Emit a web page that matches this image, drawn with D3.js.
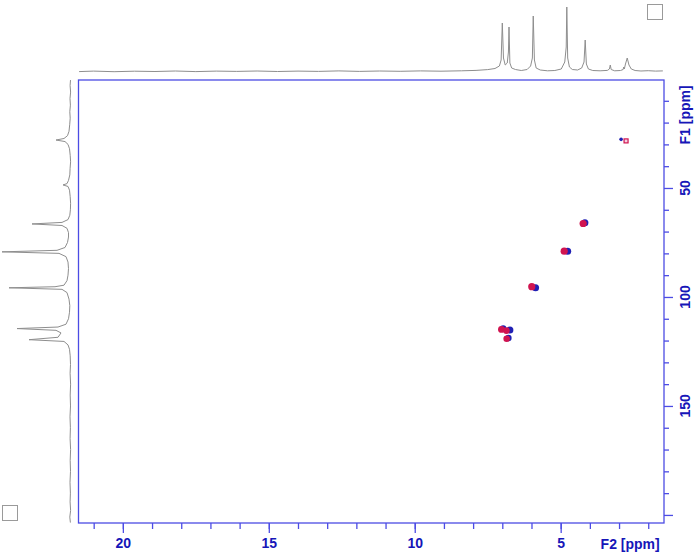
<!DOCTYPE html>
<html><head><meta charset="utf-8">
<script src="https://cdn.jsdelivr.net/npm/d3@7"></script>
<style>body{margin:0;background:#fff}svg{display:block}</style>
</head><body>
<script>
// ---- data ----
const f2MajorTicks = [20, 15, 10, 5];
const f2MinorTicks = [21,20,19,18,17,16,15,14,13,12,11,10,9,8,7,6,5,4,3,2];
const f1MajorTicks = [50, 100, 150, 200];
const f1MajorLabels = [50, 100, 150];
const f1MinorTicks = [10,20,30,40,60,70,80,90,110,120,130,140,160,170,180,190];
const f2AxisTitle = "F2 [ppm]";
const f1AxisTitle = "F1 [ppm]";

// 2D cross peaks [F2 ppm, F1 ppm, size]
const bluePeaks = [[2.93,27.7,1.8],[4.17,66.0,3.5],[4.76,79.0,3.5],[5.86,95.8,3.5],[6.97,114.4,3.2],[6.74,115.2,3.5],[6.79,118.8,3.2]];
const redPeaks  = [[4.23,66.3,3.6],[4.88,79.0,3.6],[5.99,95.3,3.6],[7.03,114.9,3.4],[6.86,115.4,3.4],[6.85,119.2,3.3]];
const redSquarePeaks = [[2.76,28.4]];

// F2 projection (top): [ppm, intensity]
const f2Trace = [[21.5,0.4],[21.0,0.9],[20.3,0.3],[19.6,0.8],[18.9,0.5],[18.2,1.0],[17.5,0.4],[16.8,0.9],[16.1,0.6],[15.4,1.0],[14.7,0.5],[14.0,0.9],[13.3,0.6],[12.6,1.1],[11.9,0.6],[11.2,1.0],[10.5,0.7],[9.8,1.1],[9.1,0.8],[8.4,1.2],[7.9,1.6],[7.5,2.4],[7.25,3.5],[7.1,6],[7.04,12],[7.0,49],[6.96,14],[6.9,7],[6.83,9],[6.79,20],[6.77,45],[6.74,9],[6.68,4],[6.55,2.5],[6.35,1.5],[6.15,2.5],[6.03,6],[5.97,14],[5.94,56],[5.9,12],[5.84,4],[5.7,2],[5.45,1.2],[5.2,1.5],[4.98,3],[4.86,10],[4.81,25],[4.79,65],[4.76,14],[4.7,5],[4.6,2.5],[4.42,2],[4.28,4],[4.2,10],[4.16,32],[4.12,8],[4.05,3],[3.9,1.5],[3.65,1.2],[3.4,1.6],[3.33,3],[3.30,7],[3.27,2.5],[3.15,1.2],[2.95,1.5],[2.86,2.5],[2.84,5],[2.82,3],[2.78,8],[2.72,14],[2.66,7],[2.58,3],[2.45,1.5],[2.25,1.0],[2.0,1.3],[1.75,0.9],[1.5,1.1]];

// F1 projection (left): [ppm, intensity]
const f1Trace = [[0.5,0.5],[3,0.9],[6,0.4],[9,1.0],[12,0.6],[15,1.2],[18,0.8],[21,1.3],[24,2],[26,3.5],[27.3,7],[28,15],[28.7,6],[30,3],[32,1.5],[35,0.8],[38,0.4],[41,0.9],[44,1.2],[46.5,2.5],[48,4],[48.6,8],[49.3,3],[51,1.5],[54,0.8],[57,0.4],[60,0.6],[62.5,1.2],[64.5,3],[65.8,9],[66.5,39],[67.2,9],[68.5,4],[70.5,2.5],[72.5,2.5],[75,3.5],[77.3,6],[78.6,14],[79.3,69],[80,12],[81.5,5],[84,3],[87,2.5],[90,3],[92.5,4],[94.6,7],[95.3,16],[95.8,62],[96.5,9],[98,4],[101,2],[104,1.2],[107,1.5],[110,2.5],[112.5,5],[113.8,13],[114.5,54],[115.3,15],[116.5,10],[118.5,13],[119.6,42],[120.4,7],[122,3],[124,1.5],[127,0.8],[131,0.5],[135,0.9],[140,0.4],[145,0.8],[150,0.5],[155,1.0],[160,0.6],[165,0.9],[170,0.4],[175,0.8],[180,0.5],[185,1.0],[190,0.6],[194,0.9],[198,0.4],[201,1.2],[203.5,0.6]];

// ---- layout ----
const W = 696, H = 553;
const frame = {left: 78.5, right: 664, top: 80, bottom: 523};
const frameColor = "#4c4ce4", labelColor = "#1616b8", traceColor = "#8e8e8e";
const blueColor = "#2020b4", redColor = "#d01450";

const svg = d3.select("body").append("svg").attr("width", W).attr("height", H);

const x = d3.scaleLinear().domain([21.52, 1.46]).range([frame.left, frame.right]);
const y = d3.scaleLinear().domain([0.46, 203.7]).range([frame.top, frame.bottom]);

// top projection
const topY = d3.scaleLinear().domain([0, 70]).range([72, 2]);
svg.append("path").datum(f2Trace)
  .attr("d", d3.line().x(d => x(d[0])).y(d => topY(d[1])))
  .attr("fill", "none").attr("stroke", traceColor).attr("stroke-width", 1);

// left projection
const leftX = d3.scaleLinear().domain([0, 70]).range([71, 1]);
svg.append("path").datum(f1Trace)
  .attr("d", d3.line().x(d => leftX(d[1])).y(d => y(d[0])))
  .attr("fill", "none").attr("stroke", traceColor).attr("stroke-width", 1);

// frame
svg.append("rect").attr("x", frame.left).attr("y", frame.top)
  .attr("width", frame.right - frame.left).attr("height", frame.bottom - frame.top)
  .attr("fill", "none").attr("stroke", frameColor).attr("stroke-width", 1.3);

function styleAxis(g) {
  g.select(".domain").remove();
  g.selectAll(".tick line").attr("stroke", frameColor).attr("stroke-width", 1.3);
  g.selectAll(".tick text").attr("fill", labelColor)
    .attr("font-family", "Liberation Sans, Arial, sans-serif")
    .attr("font-weight", "bold").attr("font-size", "14px");
}
// bottom axis
svg.append("g").attr("transform", `translate(0,${frame.bottom})`)
  .call(d3.axisBottom(x).tickValues(f2MinorTicks).tickSize(6).tickFormat(""))
  .call(styleAxis);
svg.append("g").attr("transform", `translate(0,${frame.bottom})`)
  .call(d3.axisBottom(x).tickValues(f2MajorTicks).tickSize(10).tickPadding(5).tickFormat(d3.format("d")))
  .call(styleAxis);
svg.append("text").attr("x", x(2.62)).attr("y", 549)
  .attr("text-anchor", "middle").attr("fill", labelColor)
  .attr("font-family", "Liberation Sans, Arial, sans-serif")
  .attr("font-weight", "bold").attr("font-size", "14px").text(f2AxisTitle);

// right axis
svg.append("g").attr("transform", `translate(${frame.right},0)`)
  .call(d3.axisRight(y).tickValues(f1MinorTicks).tickSize(5).tickFormat(""))
  .call(styleAxis);
svg.append("g").attr("transform", `translate(${frame.right},0)`)
  .call(d3.axisRight(y).tickValues(f1MajorTicks).tickSize(9).tickFormat(""))
  .call(styleAxis);
svg.append("g").selectAll("text").data(f1MajorLabels.map(String).concat([f1AxisTitle]))
  .join("text")
  .attr("transform", (d, i) => `translate(684.5,${i < f1MajorLabels.length ? y(f1MajorLabels[i]) : y(16.5)}) rotate(-90)`)
  .attr("text-anchor", "middle").attr("dy", "0.36em")
  .attr("fill", labelColor)
  .attr("font-family", "Liberation Sans, Arial, sans-serif")
  .attr("font-weight", "bold").attr("font-size", "14px")
  .text(d => d);

// cross peaks
svg.append("g").selectAll("circle").data(bluePeaks).join("circle")
  .attr("cx", d => x(d[0])).attr("cy", d => y(d[1])).attr("r", d => d[2])
  .attr("fill", blueColor);
svg.append("g").selectAll("circle").data(redPeaks).join("circle")
  .attr("cx", d => x(d[0])).attr("cy", d => y(d[1])).attr("r", d => d[2])
  .attr("fill", redColor);
svg.append("g").selectAll("rect").data(redSquarePeaks).join("rect")
  .attr("x", d => x(d[0]) - 2).attr("y", d => y(d[1]) - 2).attr("width", 4).attr("height", 4)
  .attr("fill", "#f4d0e0").attr("stroke", redColor).attr("stroke-width", 1.2);

// corner boxes
svg.append("rect").attr("x", 647.5).attr("y", 4.5).attr("width", 15).attr("height", 15)
  .attr("fill", "none").attr("stroke", "#9a9a9a").attr("stroke-width", 1);
svg.append("rect").attr("x", 2.5).attr("y", 505.5).attr("width", 15).attr("height", 15)
  .attr("fill", "none").attr("stroke", "#9a9a9a").attr("stroke-width", 1);
</script>
</body></html>
